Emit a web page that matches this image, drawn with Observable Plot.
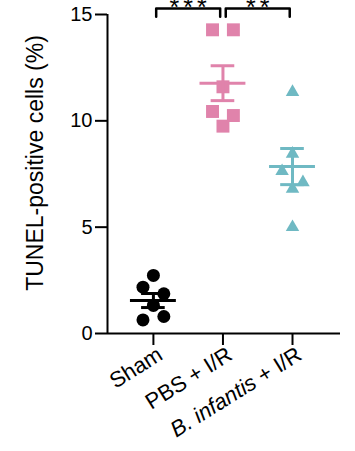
<!DOCTYPE html>
<html><head><meta charset="utf-8">
<script src="https://cdn.jsdelivr.net/npm/d3@7"></script>
<script src="https://cdn.jsdelivr.net/npm/@observablehq/plot@0.6"></script>
<style>body{margin:0;background:#fff;overflow:hidden}</style>
</head><body><div id="chart"></div>
<script>
// ---- data ----
const groups = ["Sham", "PBS + I/R", "B. infantis + I/R"];
const shamValues = [2.73, 1.32, 2.18, 1.87, 0.64, 0.80];
const pbsValues = [14.28, 14.28, 11.6, 9.75, 10.44, 10.25];
const infantisValues = [11.35, 8.45, 6.8, 5.0, 7.63, 7.11];
const groupMeans = [1.55, 11.77, 7.85];
const groupSems = [0.33, 0.82, 0.85];
const yTicks = [0, 5, 10, 15];
const comparisons = [{from: 0, to: 1, label: "***"}, {from: 1, to: 2, label: "**"}];
const yLabel = "TUNEL-positive cells (%)";

// ---- layout / style config ----
const colors = ["#000000", "#e083ab", "#6fb9c3"];
const xDomain = [-0.66, 2.69];
const colStep = 0.15;   // spacing of swarm columns (group units)
const collideY = 1.0;   // values closer than this cannot share a column
const font = "'Liberation Sans', Arial, Helvetica, sans-serif";

// simple column swarm: tied values are spread symmetrically, others take the nearest free column
function swarm(values, gi) {
  const placed = [];
  let i = 0;
  while (i < values.length) {
    let j = i;
    while (j + 1 < values.length && values[j + 1] === values[i]) j++;
    const n = j - i + 1;
    const v = values[i];
    const sets = [];
    if (n === 1) {
      sets.push([0]);
      for (let k = 1; k <= 3; k++) sets.push([-k], [k]);
    } else {
      for (let k = 1; k <= 3; k++) {
        sets.push(Array.from({length: n}, (_, m) => Math.round((m - (n - 1) / 2) * 2 * k / (n - 1))));
      }
    }
    const free = c => placed.every(p => p.c !== c || Math.abs(p.v - v) >= collideY);
    const chosen = sets.find(s => s.every(free)) || sets[0];
    chosen.forEach(c => placed.push({v, c}));
    i = j + 1;
  }
  return placed.map(p => ({x: gi + p.c * colStep, y: p.v}));
}

const shamPts = swarm(shamValues, 0);
const pbsPts = swarm(pbsValues, 1);
const infPts = swarm(infantisValues, 2);
const bars = groups.map((g, i) => ({i, mean: groupMeans[i], sem: groupSems[i], color: colors[i]}));
const bracketPts = comparisons.flatMap((c, k) => {
  const a = c.from + 0.04, b = c.to - 0.04;
  return [{k, x: a, y: 14.9}, {k, x: a, y: 15.28}, {k, x: b, y: 15.28}, {k, x: b, y: 14.9}];
});

const chart = Plot.plot({
  width: 355,
  height: 451,
  marginLeft: 107,
  marginRight: 15,
  marginTop: 14,
  marginBottom: 118,
  style: {fontFamily: font, fontSize: "20px", color: "#000", background: "#fff", overflow: "visible"},
  x: {type: "linear", domain: xDomain},
  y: {domain: [0, 15]},
  marks: [
    Plot.ruleY([0], {strokeWidth: 2}),
    Plot.ruleX([xDomain[0]], {y1: 0, y2: 15, strokeWidth: 2}),
    Plot.axisY(yTicks, {tickSize: 12, tickPadding: 3, strokeWidth: 2, fontSize: 20, label: null}),
    Plot.axisX([0, 1, 2], {tickFormat: () => "", tickSize: 12, strokeWidth: 2, label: null}),
    Plot.axisX([0, 1, 2], {tickFormat: i => groups[i], tickRotate: -32, tickSize: 0, tickPadding: 19, dx: 7, fontSize: 22, label: null}),
    Plot.dot(shamPts, {x: "x", y: "y", symbol: "circle", r: 6.5, fill: colors[0]}),
    Plot.dot(pbsPts, {x: "x", y: "y", symbol: "square", r: 7.3, fill: colors[1]}),
    Plot.dot(infPts, {x: "x", y: "y", symbol: "triangle", r: 5.0, fill: colors[2]}),
    Plot.ruleY(bars, {y: "mean", x1: d => d.i - 0.33, x2: d => d.i + 0.33, stroke: "color", strokeWidth: 3}),
    Plot.ruleX(bars, {x: "i", y1: d => d.mean - d.sem, y2: d => d.mean + d.sem, stroke: "color", strokeWidth: 3}),
    Plot.ruleY(bars, {y: d => d.mean + d.sem, x1: d => d.i - 0.17, x2: d => d.i + 0.17, stroke: "color", strokeWidth: 3}),
    Plot.ruleY(bars, {y: d => d.mean - d.sem, x1: d => d.i - 0.17, x2: d => d.i + 0.17, stroke: "color", strokeWidth: 3}),
    Plot.line(bracketPts, {x: "x", y: "y", z: "k", stroke: "#000", strokeWidth: 2.5}),
    Plot.text(comparisons, {x: d => (d.from + d.to) / 2, y: 15.3, text: "label", fontSize: 25, dx: 2}),
    Plot.text([yLabel], {x: null, y: null, text: d => d, frameAnchor: "left", textAnchor: "middle", rotate: -90, dx: -72, dy: -11, fontSize: 23})
  ]
});

// italicise the species name in the x tick label
d3.select(chart).selectAll("text").each(function() {
  const t = d3.select(this);
  if (t.text() === "B. infantis + I/R") {
    t.text("");
    t.append("tspan").attr("font-style", "italic").text("B. infantis");
    t.append("tspan").text(" + I/R");
  }
});
d3.select(chart).selectAll("text").filter(function() { return this.textContent.startsWith("*"); }).attr("letter-spacing", 4);
document.getElementById("chart").append(chart);
</script>
</body></html>
